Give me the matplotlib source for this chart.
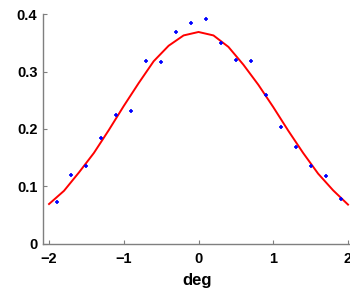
import matplotlib
matplotlib.use('Agg')
import matplotlib.pyplot as plt
import numpy as np

# measured points (blue)
pts_x = [-1.9, -1.7, -1.5, -1.3, -1.1, -0.9, -0.7, -0.5, -0.3, -0.1,
         0.1, 0.3, 0.5, 0.7, 0.9, 1.1, 1.3, 1.5, 1.7, 1.9]
pts_y = [0.073, 0.120, 0.135, 0.184, 0.224, 0.232, 0.318, 0.317, 0.369, 0.384,
         0.391, 0.349, 0.321, 0.319, 0.259, 0.204, 0.168, 0.135, 0.118, 0.078]

# fitted curve (red)
fit_x = [-2.0, -1.8, -1.6, -1.4, -1.2, -1.0, -0.8, -0.6, -0.4, -0.2, 0.0,
         0.2, 0.4, 0.6, 0.8, 1.0, 1.2, 1.4, 1.6, 1.8, 2.0]
fit_y = [0.069, 0.092, 0.124, 0.158, 0.198, 0.240, 0.280, 0.318, 0.345, 0.363, 0.369,
         0.363, 0.343, 0.312, 0.277, 0.238, 0.197, 0.158, 0.122, 0.093, 0.068]

x_ticks = [-2, -1, 0, 1, 2]
y_ticks = [0, 0.1, 0.2, 0.3, 0.4]
y_tick_labels = ['0', '0.1', '0.2', '0.3', '0.4']

plt.rcParams['font.family'] = ['Liberation Sans', 'DejaVu Sans']

fig = plt.figure(figsize=(3.5, 2.9), dpi=100)
ax = fig.add_axes([0.123, 0.160, 0.882, 0.791])

ax.plot(fit_x, fit_y, color='red', linewidth=1.4)
ax.plot(pts_x, pts_y, color='blue', marker='+', markersize=3, markeredgewidth=1.2, linestyle='none')

ax.set_xlim(-2.08, 2.05)
ax.set_ylim(0, 0.4)
ax.set_xticks(x_ticks)
ax.set_yticks(y_ticks)
ax.set_yticklabels(y_tick_labels)

ax.spines['top'].set_visible(False)
ax.spines['right'].set_visible(False)
for s in ['left', 'bottom']:
    ax.spines[s].set_color('#7f7f7f')
    ax.spines[s].set_linewidth(1.0)

ax.tick_params(direction='in', length=3, width=0.8, color='#7f7f7f',
               labelsize=10.5, labelcolor='black')
ax.tick_params(axis='x', pad=6)
ax.tick_params(axis='y', pad=4)
for lab in ax.get_xticklabels() + ax.get_yticklabels():
    lab.set_fontweight('bold')

ax.set_xlabel('deg', fontsize=12, fontweight='bold', labelpad=5)

fig.savefig('out.png', dpi=100)
